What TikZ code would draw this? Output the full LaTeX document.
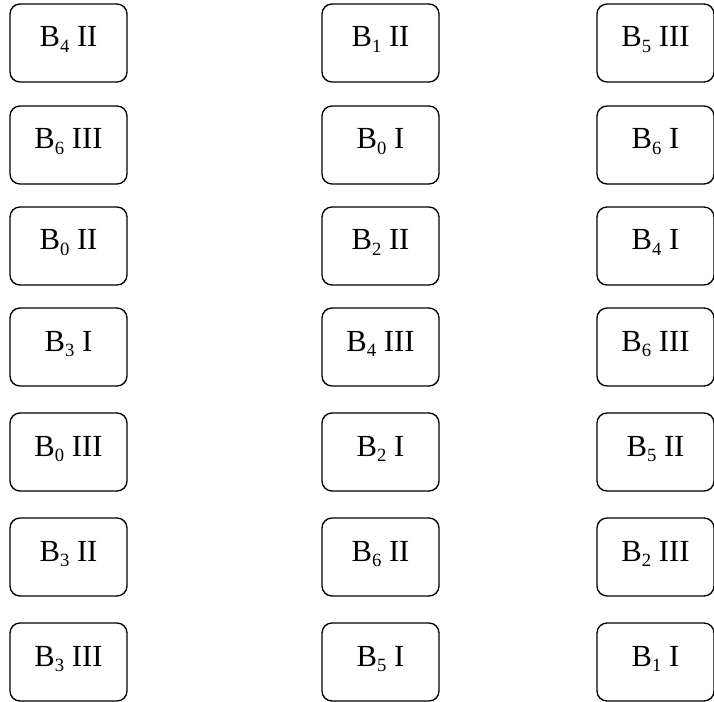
\documentclass[tikz,border=0pt]{standalone}
\usepackage{fontspec}
\setmainfont{Liberation Serif}
\newcommand\bsub[1]{\raisebox{-0.18em}{\fontsize{14}{14}\selectfont #1}}
\tikzset{
  card/.style={draw,line width=1pt,rounded corners=7.5pt,minimum width=87.75pt,
    minimum height=58.5pt,inner sep=0pt,text height=14pt,text depth=8pt,
    font=\fontsize{23}{27}\selectfont},
}
\begin{document}
\begin{tikzpicture}[x=0.75pt,y=-0.75pt]
  \useasboundingbox (0,0) rectangle (714,702);
  % left column
  \node[card] (l1) at (68.5,43) {B\bsub{4} II};
  \node[card] (l2) at (68.5,145) {B\bsub{6} III};
  \node[card] (l3) at (68.5,246) {B\bsub{0} II};
  \node[card] (l4) at (68.5,347) {B\bsub{3} I};
  \node[card] (l5) at (68.5,452) {B\bsub{0} III};
  \node[card] (l6) at (68.5,557) {B\bsub{3} II};
  \node[card] (l7) at (68.5,662) {B\bsub{3} III};
  % middle column
  \node[card] (m1) at (380.5,43) {B\bsub{1} II};
  \node[card] (m2) at (380.5,145) {B\bsub{0} I};
  \node[card] (m3) at (380.5,246) {B\bsub{2} II};
  \node[card] (m4) at (380.5,347) {B\bsub{4} III};
  \node[card] (m5) at (380.5,452) {B\bsub{2} I};
  \node[card] (m6) at (380.5,557) {B\bsub{6} II};
  \node[card] (m7) at (380.5,662) {B\bsub{5} I};
  % right column
  \node[card] (r1) at (655.5,43) {B\bsub{5} III};
  \node[card] (r2) at (655.5,145) {B\bsub{6} I};
  \node[card] (r3) at (655.5,246) {B\bsub{4} I};
  \node[card] (r4) at (655.5,347) {B\bsub{6} III};
  \node[card] (r5) at (655.5,452) {B\bsub{5} II};
  \node[card] (r6) at (655.5,557) {B\bsub{2} III};
  \node[card] (r7) at (655.5,662) {B\bsub{1} I};
\end{tikzpicture}
\end{document}
